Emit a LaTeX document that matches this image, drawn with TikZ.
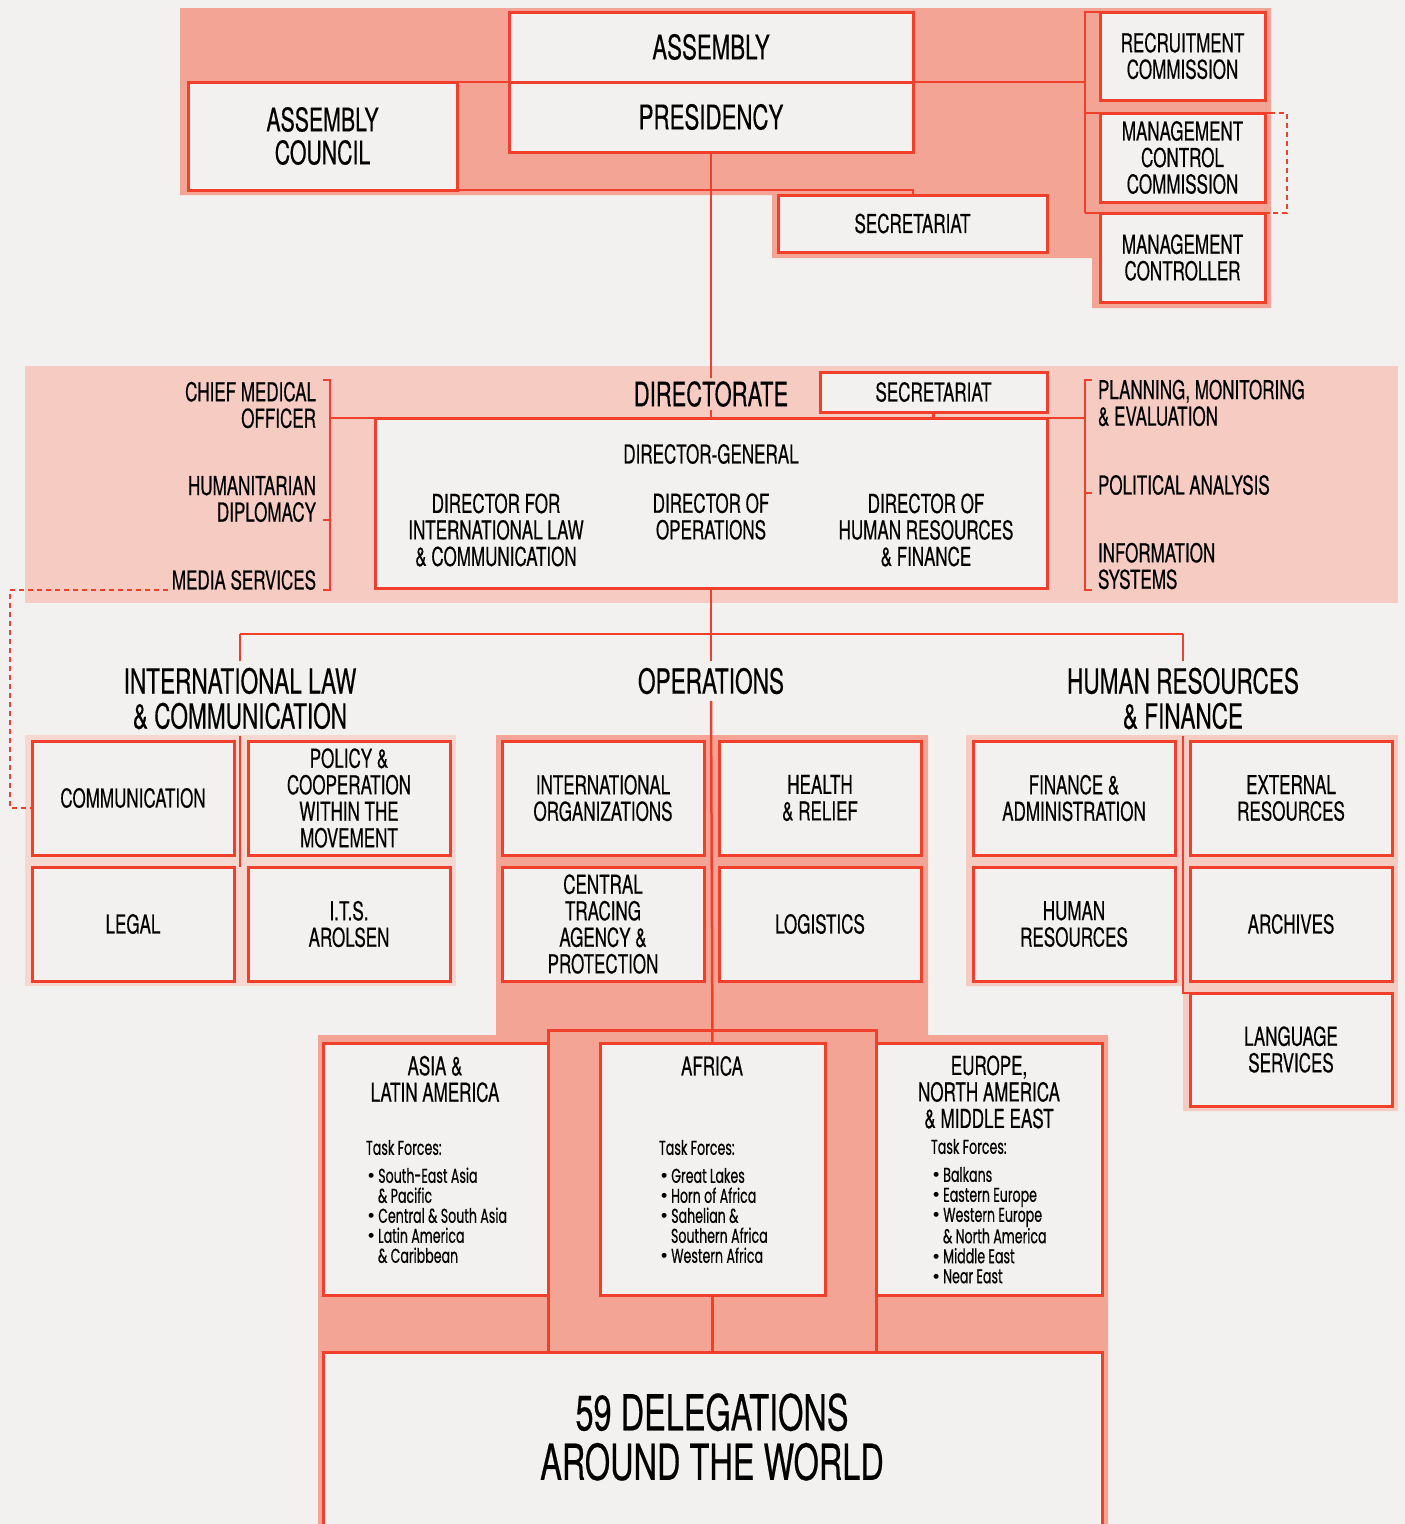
\documentclass[tikz,border=0pt]{standalone}
\usepackage{fontspec}
\setmainfont[FakeStretch=0.655,FakeBold=0.4]{TeX Gyre Heros}
\newfontfamily\tff[FakeStretch=0.63,FakeBold=0.5]{Poppins}
\newfontfamily\bulf{Poppins}
\usetikzlibrary{calc}
\definecolor{paper}{RGB}{242,241,239}
\definecolor{salmon}{RGB}{244,164,148}
\definecolor{pinkband}{RGB}{246,204,194}
\definecolor{pinkgrp}{RGB}{247,216,208}
\definecolor{redln}{RGB}{240,64,44}
\newcommand\fsz[2]{\fontsize{#1}{#2}\selectfont}
\newcommand\bul{\hspace*{1pt}{\bulf\fsz{20}{20}\textbullet}\hspace{3pt}}
\newcommand\bx[7][]{\node[box,minimum width={#5-#3},minimum height={#6-#4},#1] (#2) at ({(#3+#5)/2},{(#4+#6)/2}) {#7};}
\pgfdeclarelayer{bg}\pgfdeclarelayer{lnl}\pgfsetlayers{bg,lnl,main}
\tikzset{
  box/.style={draw=redln,line width=3pt,fill=paper,align=center,inner sep=0pt,outer sep=0pt,font=\fsz{26}{26.5}},
  frame/.style={draw=redln,line width=3pt,inner sep=0pt,outer sep=0pt},
  lbl/.style={inner sep=0pt,outer sep=0pt,font=\fsz{26}{26.5}},
  ttl/.style={inner sep=7pt,outer sep=0pt,align=center,font=\fsz{34.5}{35}},
  tfl/.style={inner sep=0pt,outer sep=0pt,align=left,anchor=north west,font=\tff\fsz{20}{20}},
  cn/.style={draw=redln,line width=2.5pt},
  dsh/.style={draw=redln,line width=2pt,dash pattern=on 5pt off 4pt}
}
\begin{document}
\begin{tikzpicture}[x=1pt,y=-1pt]
\useasboundingbox (0,0) rectangle (1405,1524);
\clip (0,0) rectangle (1405,1524);
\begin{pgfonlayer}{bg}
\fill[paper] (0,0) rectangle (1405,1524);
% top salmon region
\fill[salmon] (180,8) -- (1271,8) -- (1271,308) -- (1092,308) -- (1092,258) -- (772,258) -- (772,195) -- (180,195) -- cycle;
% directorate band
\fill[pinkband] (25,366) rectangle (1398,603);
% group backgrounds
\fill[pinkgrp] (25,735) rectangle (456,986);
\fill[pinkband] (966,735) -- (1398,735) -- (1398,1111) -- (1183,1111) -- (1183,986) -- (966,986) -- cycle;
\fill[salmon] (496,735) -- (928,735) -- (928,1035) -- (1108,1035) -- (1108,1530) -- (318,1530) -- (318,1035) -- (496,1035) -- cycle;
\end{pgfonlayer}

% ---------- top ----------
\bx[font=\fsz{34}{34}]{asm}{509}{12}{913}{82}{ASSEMBLY}
\bx[font=\fsz{34}{34}]{pres}{509}{82}{913}{152}{PRESIDENCY}
\bx[font=\fsz{32.5}{33}]{council}{188}{82}{457}{190}{ASSEMBLY\\COUNCIL}
\bx{rec}{1100}{12}{1265}{100}{RECRUITMENT\\COMMISSION}
\bx{mcc}{1100}{113}{1265}{202}{MANAGEMENT\\CONTROL\\COMMISSION}
\bx{mctl}{1100}{213}{1265}{302}{MANAGEMENT\\CONTROLLER}
\bx{sec1}{778}{195}{1047}{252}{SECRETARIAT}
\coordinate (rbT) at (1085,12);
\coordinate (rbM) at (1085,113);
\coordinate (rbB) at (1085,213);
\coordinate (dR1) at (1270,113);
\coordinate (dR2) at (1270,213);
\coordinate (dX1) at (1287,113);
\coordinate (dX2) at (1287,213);

% ---------- directorate ----------
\node[lbl,fill=pinkband,inner sep=3pt,font=\fsz{33.5}{34}] (dir) at (711,394) {DIRECTORATE};
\bx{sec2}{820}{372}{1047}{412}{SECRETARIAT}
\bx{dg}{375}{418}{1047}{588}{}
\node[lbl] (dgt) at (711,454) {DIRECTOR-GENERAL};
\node[lbl,align=center] (dil) at (496,530) {DIRECTOR FOR\\INTERNATIONAL LAW\\\& COMMUNICATION};
\node[lbl,align=center] (dop) at (711,516.5) {DIRECTOR OF\\OPERATIONS};
\node[lbl,align=center] (dhr) at (926,530) {DIRECTOR OF\\HUMAN RESOURCES\\\& FINANCE};
\node[lbl,align=right,anchor=east] (cmo) at (316,405) {CHIEF MEDICAL\\OFFICER};
\node[lbl,align=right,anchor=east] (hdip) at (316,499) {HUMANITARIAN\\DIPLOMACY};
\node[lbl,align=right,anchor=east] (media) at (316,580) {MEDIA SERVICES};
\node[lbl,align=left,anchor=west] (pme) at (1098,403) {PLANNING, MONITORING\\\& EVALUATION};
\node[lbl,align=left,anchor=west] (pol) at (1098,485) {POLITICAL ANALYSIS};
\node[lbl,align=left,anchor=west] (isys) at (1098,566) {INFORMATION\\SYSTEMS};
\coordinate (lbT) at (330,380);
\coordinate (lbB) at (330,590);
\coordinate (lbJ) at (330,418);
\coordinate (rbrT) at (1085,380);
\coordinate (rbrB) at (1085,590);
\coordinate (rbrJ) at (1085,418);
\coordinate (dm) at (168,590);
\coordinate (dq1) at (10,590);
\coordinate (dq2) at (10,808);

% ---------- divisions ----------
\node[ttl] (tIL) at (240,698.5) {INTERNATIONAL LAW\\\& COMMUNICATION};
\node[ttl] (tOP) at (711,681) {OPERATIONS};
\node[ttl] (tHR) at (1183,698.5) {HUMAN RESOURCES\\\& FINANCE};
\coordinate (hj) at (711,634);

\bx{comm}{32}{741}{234}{855}{COMMUNICATION}
\bx{policy}{248}{741}{450}{855}{POLICY \&\\COOPERATION\\WITHIN THE\\MOVEMENT}
\bx{legal}{32}{867}{234}{981}{LEGAL}
\bx{its}{248}{867}{450}{981}{I.T.S.\\AROLSEN}

\bx{io}{502}{741}{704}{855}{INTERNATIONAL\\ORGANIZATIONS}
\bx{health}{719}{741}{921}{855}{HEALTH\\\& RELIEF}
\bx{cta}{502}{867}{704}{981}{CENTRAL\\TRACING\\AGENCY \&\\PROTECTION}
\bx{logi}{719}{867}{921}{981}{LOGISTICS}

\bx{fa}{973}{741}{1175}{855}{FINANCE \&\\ADMINISTRATION}
\bx{ext}{1190}{741}{1392}{855}{EXTERNAL\\RESOURCES}
\bx{hres}{973}{867}{1175}{981}{HUMAN\\RESOURCES}
\bx{arch}{1190}{867}{1392}{981}{ARCHIVES}
\bx{lang}{1190}{993}{1392}{1106}{LANGUAGE\\SERVICES}

% ---------- regions ----------
\node[frame,minimum width=328,minimum height=322] (afrframe) at (712,1191) {};
\bx{asia}{323}{1043}{548}{1295}{}
\bx{africa}{600}{1043}{825}{1295}{}
\bx{europe}{876}{1043}{1102}{1295}{}
\bx{deleg}{323}{1352}{1102}{1540}{}
\node[lbl,align=center] (asiah) at (435,1079) {ASIA \&\\LATIN AMERICA};
\node[lbl,align=center] (afrh) at (712,1066) {AFRICA};
\node[lbl,align=center] (eurh) at (989,1092) {EUROPE,\\NORTH AMERICA\\\& MIDDLE EAST};
\node[tfl] (asiat) at (366,1140) {Task Forces:\\[8pt]
 \bul South-East Asia\\
 \hspace*{12pt}\& Pacific\\
 \bul Central \& South Asia\\
 \bul Latin America\\
 \hspace*{12pt}\& Caribbean};
\node[tfl] (afrt) at (659,1140) {Task Forces:\\[8pt]
 \bul Great Lakes\\
 \bul Horn of Africa\\
 \bul Sahelian \&\\
 \hspace*{12pt}Southern Africa\\
 \bul Western Africa};
\node[tfl] (eurt) at (931,1139) {Task Forces:\\[8pt]
 \bul Balkans\\
 \bul Eastern Europe\\
 \bul Western Europe\\
 \hspace*{12pt}\& North America\\
 \bul Middle East\\
 \bul Near East};
\node[lbl,align=center,font=\fsz{49.6}{49.5}] (delt) at (712,1437) {59 DELEGATIONS\\AROUND THE WORLD};

% ---------- connectors ----------
\begin{pgfonlayer}{lnl}
\draw[cn] (council.north east) -- (pres.north west);
\draw[cn] (pres.north east) -- (pres.north east -| rbT);
\draw[cn] (rec.north west) -- (rbT) -- (rbB);
\draw[cn] (rbM) -- (dR1);
\draw[cn] (rbB) -- (dR2);
\draw[dsh] (dR1) -- (dX1) -- (dX2) -- (dR2);
\draw[cn] (council.south east) -| (sec1.north west -| pres.south east);
\draw[cn] (pres.south) -- (dg.north);
\draw[cn] (sec2.south) -- (sec2.south |- dg.north);
% left bracket
\draw[cn] ($(lbT)+(-7,0)$) -- (lbT) -- (lbB) -- ($(lbB)+(-7,0)$);
\draw[cn] (323,520) -- (330,520);
\draw[cn] (lbJ) -- (dg.north west);
% right bracket
\draw[cn] ($(rbrT)+(7,0)$) -- (rbrT) -- (rbrB) -- ($(rbrB)+(7,0)$);
\draw[cn] (1085,493) -- (1092,493);
\draw[cn] (dg.north east) -- (rbrJ);
% dashed link media services -> communication
\draw[dsh] (dm) -- (dq1) -- (dq2) -- (dq2 -| comm.west);
% divisions
\draw[cn] (dg.south) -- (hj);
\draw[cn] (tIL.north |- hj) -- (tHR.north |- hj);
\draw[cn] (tIL.north |- hj) -- (tIL.north);
\draw[cn] (tHR.north |- hj) -- (tHR.north);
\draw[cn] (hj) -- (tOP.north);
\draw[cn] (tIL.south) -- (tIL.south |- legal.north);
\draw[cn] (tHR.south) -- (tHR.south |- lang.north) -- (lang.north west);
\draw[cn] (tOP.south) -- (africa.north);
\draw[cn] (africa.south) -- (deleg.north);
\end{pgfonlayer}
\end{tikzpicture}
\end{document}
